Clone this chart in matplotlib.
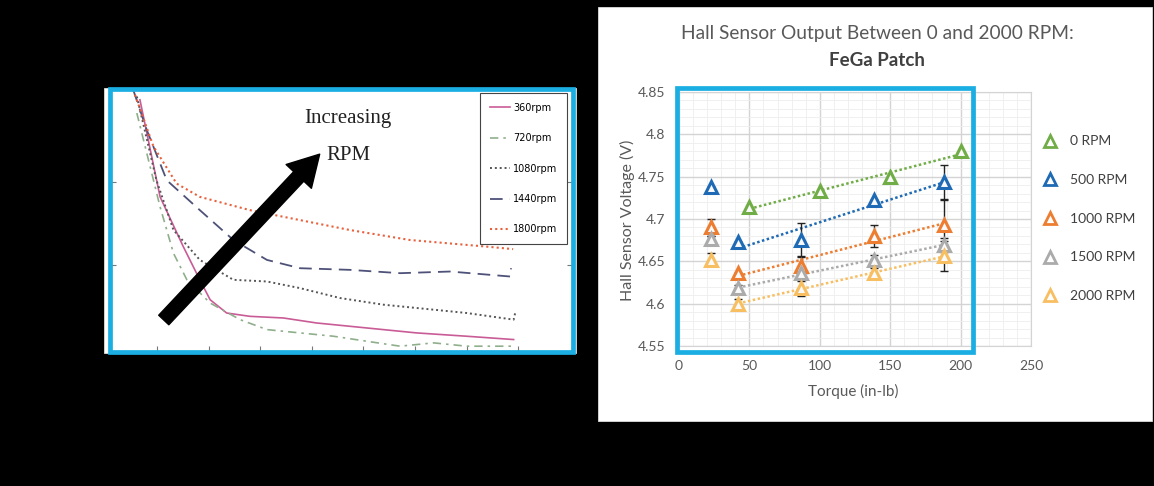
import numpy as np
import matplotlib
matplotlib.use('Agg')
import matplotlib.pyplot as plt
from matplotlib.patches import Rectangle
from matplotlib.lines import Line2D
from matplotlib.ticker import MultipleLocator

W, H = 1154, 486

# --- left panel: scanned curves (x/y in that plot's tick units) ---
rpm_labels = ['360rpm', '720rpm', '1080rpm', '1440rpm', '1800rpm']
x_360 = [0.67, 1.06, 1.51, 1.83, 2.03, 2.35, 2.80, 3.45, 4.09, 5.06, 6.03, 7.00, 7.91]
y_360 = [2.99, 1.82, 1.22, 0.82, 0.58, 0.42, 0.38, 0.36, 0.30, 0.24, 0.18, 0.14, 0.10]
x_720 = [0.61, 1.06, 1.32, 1.58, 2.03, 2.61, 3.13, 3.77, 4.42, 5.06, 5.71, 6.36, 7.00, 7.91]
y_720 = [2.83, 1.70, 1.14, 0.82, 0.54, 0.34, 0.22, 0.18, 0.14, 0.08, 0.02, 0.06, 0.02, 0.02]
x_1080 = [0.61, 0.99, 1.32, 1.83, 2.48, 3.13, 3.77, 4.55, 5.39, 6.36, 7.00, 7.91, 7.94]
y_1080 = [3.03, 2.02, 1.42, 1.06, 0.82, 0.80, 0.72, 0.60, 0.52, 0.46, 0.42, 0.34, 0.42]
x_1440 = [0.54, 0.80, 1.19, 1.83, 2.48, 3.13, 3.77, 4.74, 5.71, 6.68, 7.84, 7.86]
y_1440 = [3.11, 2.63, 2.02, 1.66, 1.30, 1.06, 0.96, 0.94, 0.90, 0.92, 0.86, 0.96]
x_1800 = [0.54, 0.93, 1.38, 1.83, 2.80, 3.77, 4.74, 5.90, 7.39, 7.90]
y_1800 = [3.11, 2.43, 1.98, 1.82, 1.66, 1.54, 1.42, 1.30, 1.22, 1.19]

# --- right panel: Hall sensor output ---
torque = [23, 42, 86.5, 138.5, 188]
torque_0rpm = [50, 100, 150, 200]
volts_0rpm = [4.714, 4.733, 4.750, 4.780]
volts_500rpm = [4.738, 4.673, 4.675, 4.722, 4.744]
volts_1000rpm = [4.690, 4.636, 4.644, 4.680, 4.693]
volts_1500rpm = [4.676, 4.618, 4.636, 4.652, 4.669]
volts_2000rpm = [4.652, 4.600, 4.618, 4.636, 4.656]
err_500rpm = [0.0, 0.0, 0.02, 0.0, 0.02]
err_1000rpm = [0.01, 0.0, 0.012, 0.013, 0.03]
err_1500rpm = [0.004, 0.004, 0.004, 0.006, 0.008]
err_2000rpm = [0.008, 0.006, 0.009, 0.006, 0.018]
series_labels = ['0 RPM', '500 RPM', '1000 RPM', '1500 RPM', '2000 RPM']
series_colors = ['#70AD47', '#1F6AB4', '#ED7D31', '#ABABAB', '#F7BF62']
ytick_vals = [4.55, 4.6, 4.65, 4.7, 4.75, 4.8, 4.85]
ytick_labels = ['4.55', '4.6', '4.65', '4.7', '4.75', '4.8', '4.85']
xtick_vals = [0, 50, 100, 150, 200, 250]


def box(x0, y0, x1, y1):
    # pixel box (top-left origin) -> figure fraction rect
    return [x0 / W, 1 - y1 / H, (x1 - x0) / W, (y1 - y0) / H]


fig = plt.figure(figsize=(W / 100, H / 100), dpi=100, facecolor='black')

# white backgrounds of the two pasted pictures
for x0, y0, x1, y1 in [(104, 88, 576, 353), (598, 7, 1152, 421)]:
    r = box(x0, y0, x1, y1)
    fig.add_artist(Rectangle((r[0], r[1]), r[2], r[3], transform=fig.transFigure,
                             facecolor='white', edgecolor='#dddddd', lw=0.6, zorder=-5))

# ---------------- left panel ----------------
axl = fig.add_axes(box(110, 89, 573, 352))
axl.set_facecolor('white')
axl.plot(x_360, y_360, color='#C95C96', lw=1.2, ls='-', label=rpm_labels[0])
axl.plot(x_720, y_720, color='#8FAF8C', lw=1.2, ls=(0, (5, 3, 1.5, 3)), label=rpm_labels[1])
axl.plot(x_1080, y_1080, color='#555555', lw=1.4, ls=(0, (1, 1.5)), label=rpm_labels[2])
axl.plot(x_1440, y_1440, color='#4E5278', lw=1.3, ls=(0, (7, 4)), label=rpm_labels[3])
axl.plot(x_1800, y_1800, color='#E8603C', lw=1.5, ls=(0, (1, 1.5)), label=rpm_labels[4])
axl.set_xlim(0.09, 9.06)
axl.set_ylim(-0.05, 3.12)
axl.set_xticks(range(1, 9))
axl.set_yticks([1, 2])
axl.tick_params(direction='in', length=4, color='#777777', labelbottom=False,
                labelleft=False, right=True)
for s in axl.spines.values():
    s.set_visible(False)
leg = axl.legend(loc='upper right', bbox_to_anchor=(0.992, 0.992),
                 labelspacing=2.1, handlelength=2.1, handletextpad=0.3,
                 borderpad=1.0, borderaxespad=0.2, fancybox=False, framealpha=1,
                 prop={'family': ['Liberation Sans Narrow', 'DejaVu Sans'], 'size': 7})
leg.get_frame().set_edgecolor('#444444')
leg.get_frame().set_linewidth(0.8)
axl.annotate('', xy=(0.457, 0.76), xytext=(0.112, 0.114), xycoords='axes fraction',
             arrowprops=dict(arrowstyle='simple,head_width=1.25,head_length=1.1,tail_width=0.5',
                             fc='black', ec='black', mutation_scale=20))
axl.text(0.514, 0.816, 'Increasing\nRPM', transform=axl.transAxes, ha='center', va='center',
         fontsize=15, family='Liberation Serif', linespacing=2.3, color='#222222')

# ---------------- right panel ----------------
ax = fig.add_axes(box(679, 92, 1031, 346))
ax.set_xlim(0, 250)
ax.set_ylim(4.55, 4.85)
ax.xaxis.set_minor_locator(MultipleLocator(10))
ax.yaxis.set_minor_locator(MultipleLocator(0.01))
ax.grid(which='major', color='#D4D4D4', lw=1.0)
ax.grid(which='minor', color='#EEEEEE', lw=0.6)
ax.set_axisbelow(True)
for s in ax.spines.values():
    s.set_color('#D4D4D4')
ax.set_xticks(xtick_vals)
ax.set_xticklabels([str(v) for v in xtick_vals], family='Lato')
ax.set_yticks(ytick_vals)
ax.set_yticklabels(ytick_labels, family='Lato')
ax.tick_params(which='both', length=0, pad=10, labelsize=10, labelcolor='#595959')

all_x = [torque_0rpm, torque, torque, torque, torque]
all_y = [volts_0rpm, volts_500rpm, volts_1000rpm, volts_1500rpm, volts_2000rpm]
all_err = [None, err_500rpm, err_1000rpm, err_1500rpm, err_2000rpm]
handles = []
for xs, ys, err, col, lab in zip(all_x, all_y, all_err, series_colors, series_labels):
    xs = np.array(xs)
    ys = np.array(ys)
    # linear trendline (Excel style), first point at ~23 in-lb is left out of the fit
    fit_x = xs if len(xs) == 4 else xs[1:]
    fit_y = ys if len(ys) == 4 else ys[1:]
    k, b = np.polyfit(fit_x, fit_y, 1)
    ax.plot([fit_x[0], fit_x[-1]], [k * fit_x[0] + b, k * fit_x[-1] + b],
            ls=(0, (1, 1)), lw=1.8, color=col, zorder=2)
    if err is not None:
        ax.errorbar(xs, ys, yerr=err, fmt='none', ecolor='#222222', elinewidth=1,
                    capsize=3, capthick=1, zorder=3)
    ax.plot(xs, ys, ls='none', marker='^', ms=9, mew=2.2, mec=col,
            mfc='#FAFAFA', zorder=4)
    handles.append(Line2D([], [], ls='none', marker='^', ms=8, mew=2, mec=col,
                          mfc='white', label=lab))

ax.legend(handles=handles, loc='upper left', bbox_to_anchor=(0.995, 0.878), frameon=False,
          prop={'family': 'Lato', 'size': 10}, labelspacing=1.92, handletextpad=0.8,
          handlelength=1.2, labelcolor='#404040')

ax.set_xlabel('Torque (in-lb)', fontsize=11, color='#595959', family='Lato')
ax.xaxis.set_label_coords(0.496, -0.148)
ax.set_ylabel('Hall Sensor Voltage (V)', fontsize=11.5, color='#595959', family='Lato')
ax.yaxis.set_label_coords(-0.124, 0.496)

fig.text(877 / W, 1 - 33 / H, 'Hall Sensor Output Between 0 and 2000 RPM:',
         ha='center', va='center', fontsize=13.8, color='#595959', family='Lato')
fig.text(877 / W, 1 - 61 / H, 'FeGa Patch', ha='center', va='center', fontsize=13.5,
         weight='bold', color='#404040', family='Lato')

# cyan highlight frames
for x0, y0, x1, y1 in [(110, 89, 573, 352), (677, 88, 973, 352)]:
    r = box(x0, y0, x1, y1)
    fig.add_artist(Rectangle((r[0], r[1]), r[2], r[3], transform=fig.transFigure,
                             facecolor='none', edgecolor='#1BAEE3', lw=3.4, zorder=20))

fig.savefig('out.png', dpi=100, facecolor='black')
